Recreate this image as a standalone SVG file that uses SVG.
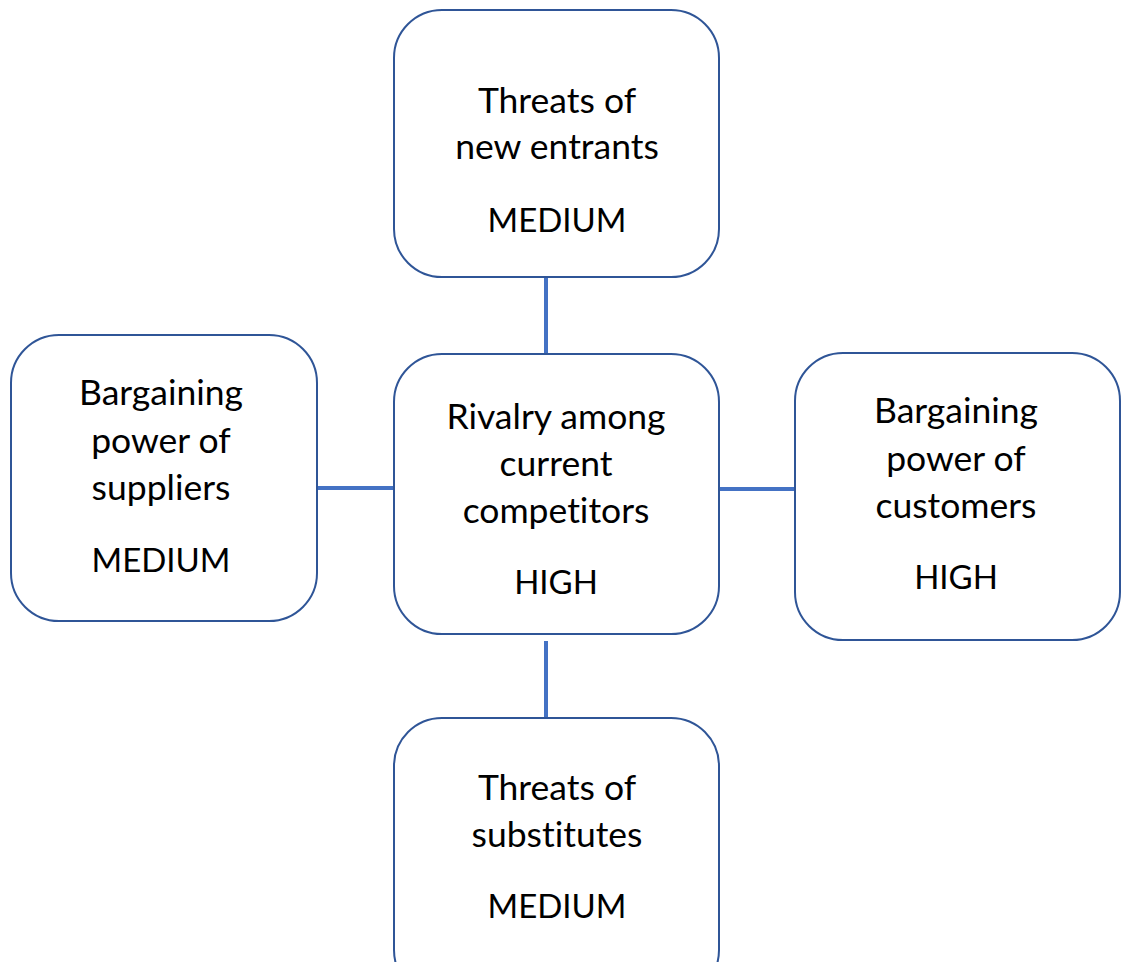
<svg xmlns="http://www.w3.org/2000/svg" width="1121" height="962" viewBox="0 0 1121 962">
<style>
.box{fill:#fff;stroke:#2F5597;stroke-width:2}
.t{font-family:"Lato","Noto Sans",sans-serif;font-size:35.5px;fill:#000;text-anchor:middle;font-variant-ligatures:none}
.k{font-size:33px}
.c{stroke:#4472C4;stroke-width:4;fill:none}
</style>
<rect width="1121" height="962" fill="#fff"/>
<g id="connectors">
<line class="c" x1="546" y1="278" x2="546" y2="354"/>
<line class="c" x1="546" y1="641" x2="546" y2="717"/>
<line class="c" x1="317" y1="488" x2="394" y2="488"/>
<line class="c" x1="719" y1="489" x2="795" y2="489"/>
</g>
<g id="new-entrants">
<rect class="box" x="394" y="10" width="325" height="267" rx="48"/>
<text class="t" x="557" y="113">Threats of</text>
<text class="t" x="557" y="159">new entrants</text>
<text class="t k" x="557" y="232">MEDIUM</text>
</g>
<g id="suppliers">
<rect class="box" x="11" y="335" width="306" height="286" rx="48"/>
<text class="t" x="161" y="405">Bargaining</text>
<text class="t" x="161" y="453">power of</text>
<text class="t" x="161" y="500">suppliers</text>
<text class="t k" x="161" y="572">MEDIUM</text>
</g>
<g id="rivalry">
<rect class="box" x="394" y="354" width="325" height="280" rx="48"/>
<text class="t" x="556" y="429">Rivalry among</text>
<text class="t" x="556" y="476">current</text>
<text class="t" x="556" y="523">competitors</text>
<text class="t k" x="556" y="594">HIGH</text>
</g>
<g id="customers">
<rect class="box" x="795" y="353" width="325" height="287" rx="48"/>
<text class="t" x="956" y="423">Bargaining</text>
<text class="t" x="956" y="471">power of</text>
<text class="t" x="956" y="518">customers</text>
<text class="t k" x="956" y="589">HIGH</text>
</g>
<g id="substitutes">
<rect class="box" x="394" y="718" width="325" height="280" rx="48"/>
<text class="t" x="557" y="800">Threats of</text>
<text class="t" x="557" y="847">substitutes</text>
<text class="t k" x="557" y="918">MEDIUM</text>
</g>
</svg>
